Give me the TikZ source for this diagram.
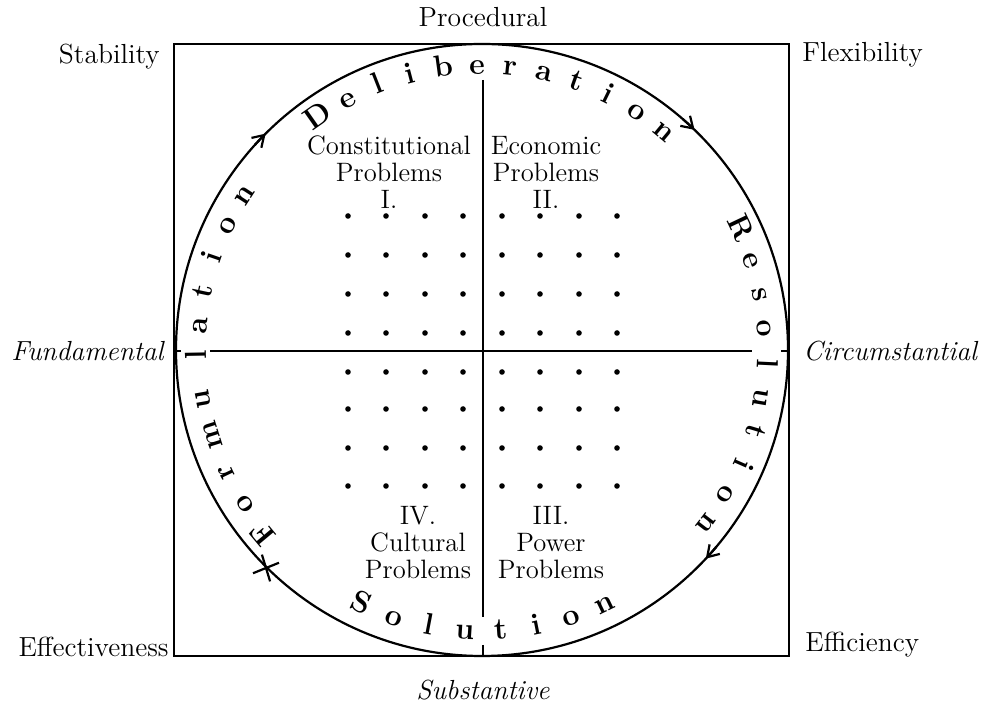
\documentclass[tikz,border=0pt]{standalone}
\usetikzlibrary{arrows.meta,calc}
\begin{document}
\begin{tikzpicture}[x=0.5pt,y=0.5pt,
  lab/.style={font=\fontsize{13.8}{14}\selectfont, inner sep=0pt},
  ilab/.style={inner sep=0pt, font=\fontsize{13.8}{14}\selectfont\itshape},
  blk/.style={inner sep=0pt, align=center, font=\fontsize{13.3}{13.5}\selectfont},
  circlet/.style={font=\fontsize{15.2}{15.2}\selectfont\bfseries, inner sep=0pt, anchor=base},
  frame/.style={line width=1.3pt},
  rim/.style={line width=1.1pt},
  axis/.style={line width=1.1pt},
  dot/.style={circle, fill, inner sep=0pt, minimum size=2.8pt},
  tip/.style={line width=1.1pt, -{Straight Barb[length=5.5pt,width=7pt,line width=1.1pt]}}
]
\useasboundingbox (0,0) rectangle (983,705);
\coordinate (C) at (482,355);
% frame and circle
\draw[frame] (174,49) rectangle (789,661);
\draw[rim] (C) circle[radius=306];
% cross lines
\coordinate (hL) at (210,354);
\coordinate (hR) at (752,354);
\coordinate (hL0) at (174,354);
\coordinate (hL1) at (181,354);
\coordinate (hR0) at (781,354);
\coordinate (hR1) at (789,354);
\coordinate (vT) at (483,625);
\coordinate (vB) at (483,88);
\coordinate (vB0) at (483,60);
\coordinate (vB1) at (483,49);
\draw[axis] (hL) -- (hR);
\draw[axis] (hL0) -- (hL1);
\draw[axis] (hR0) -- (hR1);
\draw[axis] (vT) -- (vB);
\draw[axis] (vB0) -- (vB1);
% dots
\foreach \x in {348,386,425,463,502,540,579,617}
  \foreach \y in {216,255,294,333,372,409,448,486}
    \node[dot] at (\x,{705-\y}) {};
% letters around the circle
\foreach \ch [count=\i from 0] in {D,e,l,i,b,e,r,a,t,i,o,n}{
  \pgfmathsetmacro\a{125-6.8*\i}
  \node[circlet, rotate=\a-90] (del\i) at ($(C)+(\a:276)$) {\ch};
}
\foreach \ch [count=\i from 0] in {R,e,s,o,l,u,t,i,o,n}{
  \pgfmathsetmacro\a{25.3-7*\i}
  \node[circlet, rotate=\a-90] (res\i) at ($(C)+(\a:276)$) {\ch};
}
\foreach \a/\ch [count=\i from 0] in {220/F,213/o,205.5/r,197.5/m,190/u,181/l,175/a,168/t,161/i,154/o,147/n}{
  \node[circlet, rotate=\a-90] (for\i) at ($(C)+(\a:276)$) {\ch};
}
\foreach \ch [count=\i from 0] in {S,o,l,u,t,i,o,n}{
  \pgfmathsetmacro\a{-115.5+7.33*\i}
  \node[circlet, rotate=\a+90] (sol\i) at ($(C)+(\a:290)$) {\ch};
}
% arrows on the circle (clockwise)
\draw[tip] ($(C)+(138:306)$) arc[start angle=138, end angle=135, radius=306];
\draw[tip] ($(C)+(49:306)$) arc[start angle=49, end angle=46, radius=306];
\draw[tip] ($(C)+(-40:306)$) arc[start angle=-40, end angle=-43, radius=306];
% cross mark
\coordinate (X) at (266,137);
\draw[line width=1.1pt] (X) ++(22:-14) -- ++(22:28);
\draw[line width=1.1pt] (X) ++(107:-14) -- ++(107:28);
% quadrant texts
\node[blk] (q1) at (389,533) {Constitutional\\Problems\\I.};
\node[blk] (q2) at (546,533) {Economic\\Problems\\II.};
\node[blk] (q4) at (418,162) {IV.\\Cultural\\Problems};
\node[blk] (q3) at (551,162) {III.\\Power\\Problems};
% outer labels
\node[lab] (proc) at (483,688) {Procedural};
\node[ilab] (subs) at (483,15) {Substantive};
\node[lab, anchor=east] (stab) at (160,648) {Stability};
\node[lab, anchor=west] (flex) at (802,650) {Flexibility};
\node[ilab, anchor=east] (fund) at (164,354) {Fundamental};
\node[ilab, anchor=west] (circ) at (803,354) {Circumstantial};
\node[lab, anchor=east] (effe) at (169,58) {Effectiveness};
\node[lab, anchor=west] (effi) at (805,60) {Efficiency};
\end{tikzpicture}
\end{document}
